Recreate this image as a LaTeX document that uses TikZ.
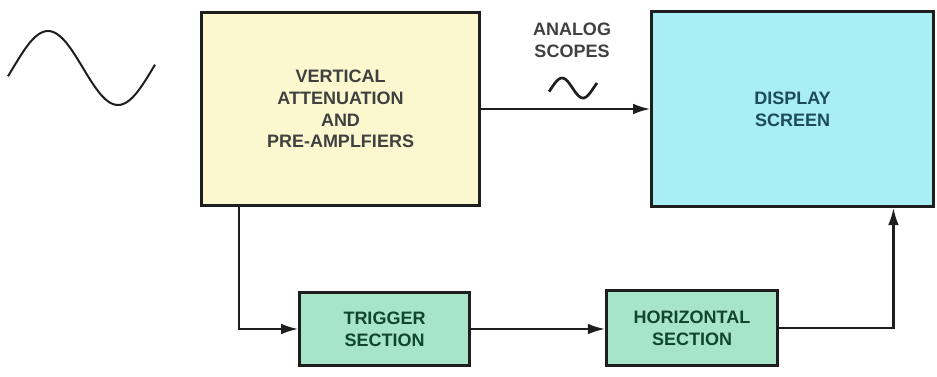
\documentclass[tikz,border=0pt]{standalone}
\usepackage{fontspec}
\setmainfont{Liberation Sans}
\usepackage{tikz}
\usetikzlibrary{positioning, arrows.meta, calc}
\definecolor{vertyellow}{HTML}{FBF8CF}
\definecolor{dispcyan}{HTML}{A9EEF3}
\definecolor{sectgreen}{HTML}{A6E6C6}
\definecolor{disptext}{HTML}{1C4C58}
\definecolor{secttext}{HTML}{12452E}
\definecolor{inkline}{HTML}{1E1E1E}

\begin{document}
\begin{tikzpicture}[
      x=0.75pt, y=-0.75pt,
      every node/.style={font=\fontsize{13.5}{16.3}\selectfont\bfseries},
      block/.style={draw=inkline, line width=2.1pt, align=center, inner sep=0pt},
      conn/.style={->, line width=1.8pt, draw=inkline},
      >={Latex[length=13pt, width=8pt]},
    ]
    \useasboundingbox (0,0) rectangle (937,376);

    \node[block, fill=vertyellow, minimum width=209pt, minimum height=145pt,
          text=inkline!85]                          (vert) at (340.5,109)
          {VERTICAL\\ATTENUATION\\AND\\PRE-AMPLFIERS};
    \node[block, fill=dispcyan, minimum width=211pt, minimum height=146pt,
          text=disptext]                            (disp) at (792.5,109)
          {DISPLAY\\SCREEN};
    \node[block, fill=sectgreen, minimum width=127pt, minimum height=55pt,
          text=secttext]                            (trig) at (384.5,329)
          {TRIGGER\\SECTION};
    \node[block, fill=sectgreen, minimum width=128pt, minimum height=56pt,
          text=secttext]                            (horz) at (692,328)
          {HORIZONTAL\\SECTION};

    \node[text=inkline!85, align=center] (analog) at (572,40) {ANALOG\\SCOPES};

    % input signal and the analog trace
    \draw[line width=1.5pt, inkline]
      plot[domain=8:155, samples=60, smooth] (\x, {68-37*cos((\x-48)*2.5714)});
    \draw[line width=2pt, inkline]
      plot[domain=549:597, samples=30, smooth] (\x, {88-10*cos((\x-562)*8.5714)});

    \coordinate (tap) at ($(vert.south west)+(39,0)$);
    \coordinate (up)  at ($(disp.south west)+(243,0)$);

    \draw[conn] (vert.east) -- (disp.west);
    \draw[conn] (tap) |- (trig.west);
    \draw[conn] (trig.east) -- (trig.east -| horz.west);
    \draw[conn] (horz.east) -| (up);
  \end{tikzpicture}
\end{document}
